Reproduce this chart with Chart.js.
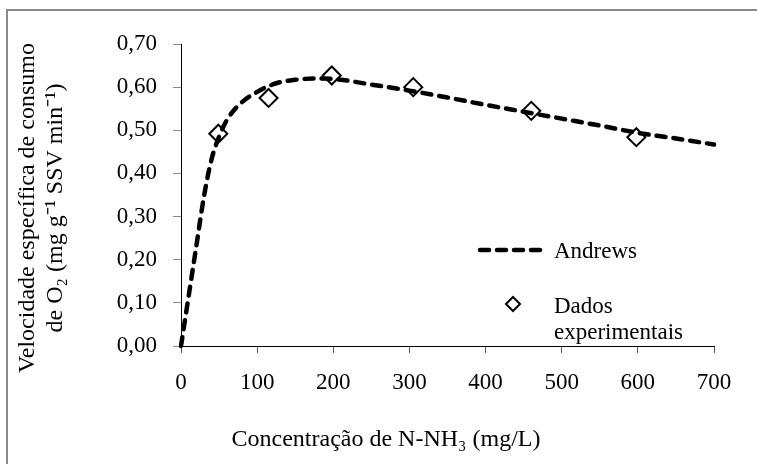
<!DOCTYPE html>
<html>
<head>
<meta charset="utf-8">
<script src="https://cdn.jsdelivr.net/npm/chart.js@4.4.1/dist/chart.umd.min.js"></script>
<style>
  html, body { margin: 0; padding: 0; background: #fff; overflow: hidden; }
  #wrap { position: relative; width: 757px; height: 464px; }
  #frame { position: absolute; left: 6px; top: 9px; width: 900px; height: 700px; border-left: 2px solid #8a8a8a; border-top: 2px solid #8a8a8a; }
  canvas { position: absolute; left: 0; top: 0; }
</style>
</head>
<body>
<div id="wrap">
  <div id="frame"></div>
  <canvas id="chart" width="757" height="464"></canvas>
</div>
<script>
// Andrews model curve
const andrewsX = [0, 10, 20, 30, 40, 50, 60, 75, 100, 125, 150, 175, 200, 250, 300, 350, 400, 450, 500, 550, 600, 650, 700];
const andrewsY = [0, 0.115, 0.23, 0.345, 0.432, 0.485, 0.523, 0.557, 0.589, 0.609, 0.617, 0.62, 0.619, 0.606, 0.592, 0.576, 0.559, 0.543, 0.527, 0.511, 0.494, 0.481, 0.467];

// experimental points
const dadosX = [49, 115, 198, 305, 460, 598];
const dadosY = [0.492, 0.575, 0.627, 0.600, 0.545, 0.484];

const xTicks = [0, 100, 200, 300, 400, 500, 600, 700];
const yTicks = [0, 0.1, 0.2, 0.3, 0.4, 0.5, 0.6, 0.7];

const xTitle = 'Concentração de N-NH₃ (mg/L)';
const yTitle = ['Velocidade específica de consumo', 'de O₂ (mg g⁻¹ SSV min⁻¹)'];

const FONT = "'Liberation Serif', 'Times New Roman', serif";
const SIZE = 23;
const TITLE_SIZE = 24;

// axis titles and legend drawn by hand (legend sits inside the plot)
const extras = {
  id: 'extras',
  afterDraw(chart) {
    const ctx = chart.ctx;
    const a = chart.data.datasets[0];
    const d = chart.data.datasets[1];
    ctx.save();
    ctx.fillStyle = '#000';
    ctx.font = TITLE_SIZE + 'px ' + FONT;
    ctx.textAlign = 'center';
    ctx.textBaseline = 'middle';
    ctx.fillText(xTitle, 386, 440);
    ctx.save();
    ctx.translate(28, 208);
    ctx.rotate(-Math.PI / 2);
    ctx.fillText(yTitle[0], 0, 0);
    ctx.fillText(yTitle[1], 0, 28);
    ctx.restore();

    ctx.strokeStyle = a.borderColor;
    ctx.lineWidth = a.borderWidth;
    ctx.lineCap = 'round';
    ctx.setLineDash(a.borderDash);
    ctx.beginPath();
    ctx.moveTo(480, 250);
    ctx.lineTo(544, 250);
    ctx.stroke();
    ctx.setLineDash([]);
    ctx.lineWidth = 2;
    ctx.strokeStyle = d.pointBorderColor;
    ctx.beginPath();
    ctx.moveTo(506, 304);
    ctx.lineTo(513, 297);
    ctx.lineTo(520, 304);
    ctx.lineTo(513, 311);
    ctx.closePath();
    ctx.stroke();
    ctx.font = SIZE + 'px ' + FONT;
    ctx.textAlign = 'left';
    ctx.textBaseline = 'alphabetic';
    ctx.fillText(a.label, 554, 258);
    ctx.fillText('Dados', 554, 313);
    ctx.fillText('experimentais', 554, 339);
    ctx.restore();
  }
};

new Chart(document.getElementById('chart'), {
  type: 'scatter',
  data: {
    datasets: [
      {
        label: 'Andrews',
        data: andrewsX.map((x, i) => ({ x: x, y: andrewsY[i] })),
        showLine: true,
        borderColor: '#000',
        borderWidth: 4.5,
        borderDash: [9, 8],
        borderCapStyle: 'round',
        cubicInterpolationMode: 'monotone',
        pointRadius: 0,
        clip: 10
      },
      {
        label: 'Dados experimentais',
        data: dadosX.map((x, i) => ({ x: x, y: dadosY[i] })),
        pointStyle: 'rectRot',
        pointRadius: 9,
        pointBorderWidth: 2,
        pointBorderColor: '#000',
        pointBackgroundColor: 'rgba(0,0,0,0)',
        clip: 15
      }
    ]
  },
  options: {
    responsive: false,
    animation: false,
    devicePixelRatio: 1,
    layout: { padding: { left: 10, top: 44, right: 43, bottom: 0 } },
    plugins: { legend: { display: false }, tooltip: { enabled: false } },
    scales: {
      x: {
        type: 'linear',
        min: 0,
        max: 700,
        afterBuildTicks: s => { s.ticks = xTicks.map(v => ({ value: v })); },
        afterFit: s => { s.height = 118; },
        ticks: { color: '#000', font: { family: FONT, size: SIZE }, padding: 16, maxRotation: 0 },
        grid: { drawOnChartArea: false, tickLength: 7, tickColor: '#555' },
        border: { color: '#000', width: 1 }
      },
      y: {
        min: 0,
        max: 0.7,
        afterBuildTicks: s => { s.ticks = yTicks.map(v => ({ value: v })); },
        afterFit: s => { s.width = 171; },
        ticks: {
          color: '#000',
          font: { family: FONT, size: SIZE },
          padding: 16,
          callback: v => v.toFixed(2).replace('.', ',')
        },
        grid: { drawOnChartArea: false, tickLength: 8, tickColor: '#888' },
        border: { color: '#000', width: 1 }
      }
    }
  },
  plugins: [extras]
});
</script>
</body>
</html>
